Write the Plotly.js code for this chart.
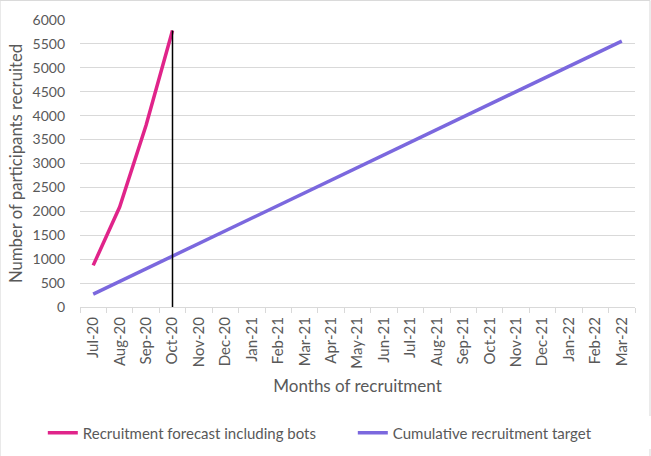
<!DOCTYPE html>
<html>
<head>
<meta charset="utf-8">
<script src="https://cdn.plot.ly/plotly-3.0.1.min.js"></script>
<style>html,body{margin:0;padding:0;background:#fff;}#chart{width:651px;height:456px;}</style>
</head>
<body>
<div id="chart"></div>
<script>
var months = ['Jul-20','Aug-20','Sep-20','Oct-20','Nov-20','Dec-20','Jan-21','Feb-21','Mar-21','Apr-21','May-21','Jun-21','Jul-21','Aug-21','Sep-21','Oct-21','Nov-21','Dec-21','Jan-22','Feb-22','Mar-22'];
var forecastMonths = ['Jul-20','Aug-20','Sep-20','Oct-20'];
var forecastValues = [870, 2090, 3800, 5780];
var targetValues = [270, 535, 800, 1065, 1330, 1595, 1860, 2125, 2390, 2655, 2920, 3185, 3450, 3715, 3980, 4245, 4510, 4775, 5040, 5305, 5560];
var cutoffMonth = ['Oct-20','Oct-20'];
var cutoffValues = [0, 5780];

var fontFam = 'Lato, "Open Sans", sans-serif';
var traces = [
  {x: forecastMonths, y: forecastValues, type:'scatter', mode:'lines', name:'Recruitment forecast including bots',
   line:{color:'#E0248A', width:3.5}},
  {x: months, y: targetValues, type:'scatter', mode:'lines', name:'Cumulative recruitment target',
   line:{color:'#7B68DE', width:3.5}},
  {x: cutoffMonth, y: cutoffValues, type:'scatter', mode:'lines', showlegend:false, hoverinfo:'skip',
   line:{color:'#000000', width:1.5}}
];
var layout = {
  width:651, height:456,
  margin:{l:80, r:16, t:20, b:149, autoexpand:false},
  paper_bgcolor:'#fff', plot_bgcolor:'#fff',
  font:{family:fontFam, size:13, color:'#595959'},
  showlegend:true,
  legend:{orientation:'h', x:-0.067, xanchor:'left', y:-0.439, yanchor:'middle',
          font:{family:fontFam, size:15, color:'#595959'}, itemwidth:30, traceorder:'normal',
          entrywidth:265, entrywidthmode:'pixels'},
  xaxis:{type:'category', categoryorder:'array', categoryarray: months, automargin:false,
         tickangle:-90, ticks:'outside', tickson:'boundaries', ticklen:5, tickcolor:'#d9d9d9',
         showline:true, linecolor:'#d9d9d9', linewidth:1, showgrid:false, zeroline:false,
         range:[-0.5, 20.5], tickfont:{size:15}, ticklabelstandoff:3,
         title:{text:'Months of recruitment', font:{size:17, color:'#595959'}, standoff:12}},
  yaxis:{range:[0,6000], dtick:500, showgrid:true, gridcolor:'#d9d9d9', gridwidth:1, automargin:false,
         zeroline:false, showline:false, ticks:'', tickfont:{size:14}, ticklabelstandoff:14,
         title:{text:'Number of participants recruited', font:{size:16.7, color:'#595959'}, standoff:5}},
  shapes:[{type:'rect', xref:'paper', yref:'paper', x0:-0.144, x1:1.027, y0:-0.522, y1:1.068,
           line:{color:'#d9d9d9', width:1}}]
};
Plotly.newPlot('chart', traces, layout, {displayModeBar:false, staticPlot:true});
</script>
</body>
</html>
